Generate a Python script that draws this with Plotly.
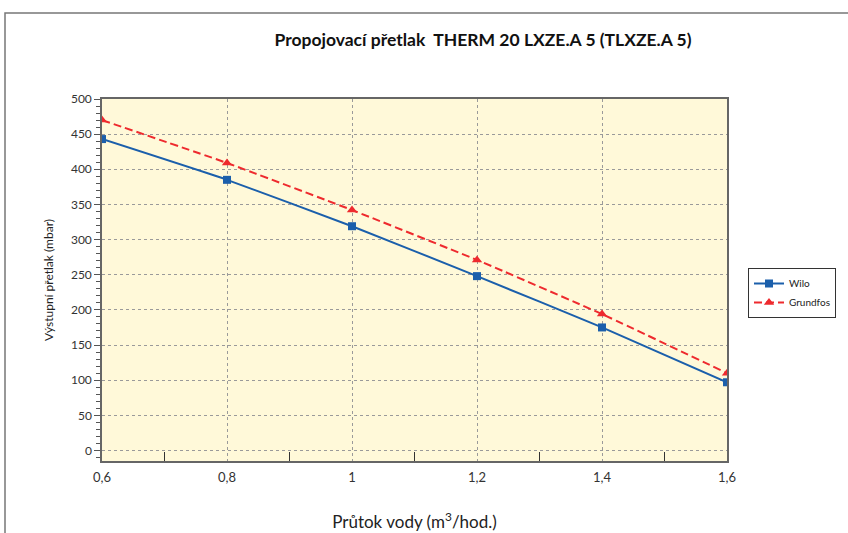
import plotly.graph_objects as go

flow = [0.6, 0.8, 1.0, 1.2, 1.4, 1.6]
wilo = [443, 385, 319, 248, 175, 97]
grundfos = [470, 409, 342, 271, 194, 110]
x_tick_vals = [0.6, 0.8, 1.0, 1.2, 1.4, 1.6]
x_tick_text = ["0,6", "0,8", "1", "1,2", "1,4", "1,6"]

FONT = "Lato, sans-serif"

fig = go.Figure()
fig.add_trace(go.Scatter(
    x=flow, y=wilo, name="Wilo", mode="lines+markers",
    line=dict(color="#1B5FAB", width=2, shape="spline", smoothing=0.4),
    marker=dict(symbol="square", size=8, color="#1B5FAB"),
))
fig.add_trace(go.Scatter(
    x=flow, y=grundfos, name="Grundfos", mode="lines+markers",
    line=dict(color="#EE2A2E", width=2, dash="8px,4px", shape="spline", smoothing=0.4),
    marker=dict(symbol="triangle-up", size=9, color="#EE2A2E"),
))

L, R, T, B = 102, 848 - 727, 99, 533 - 461
fig.update_layout(
    width=848, height=533,
    margin=dict(l=L, r=R, t=T, b=B, autoexpand=False),
    paper_bgcolor="white",
    plot_bgcolor="#FFF9D9",
    font=dict(family=FONT, size=12, color="#333333"),
    showlegend=True,
    legend=dict(
        x=(748 - L) / 625, y=(461 - 268) / 362, xanchor="left", yanchor="top",
        bgcolor="white", bordercolor="#333333", borderwidth=1,
        font=dict(family=FONT, size=10, color="#222222"),
        tracegroupgap=0, itemwidth=30,
    ),
    title=dict(
        text="<b>Propojovací přetlak  THERM 20 LXZE.A 5 (TLXZE.A 5)</b>",
        x=(483 - L) / 625, xref="paper", xanchor="center",
        y=1 - 40 / 533, yanchor="middle",
        font=dict(family=FONT, size=17.5, color="#111111"),
    ),
    xaxis=dict(
        range=[0.6, 1.6], automargin=False,
        tickvals=x_tick_vals, ticktext=x_tick_text,
        ticks="", showgrid=True,
        gridcolor="#9a9a9a", griddash="3px,3px", gridwidth=1,
        showline=True, linecolor="#666666", linewidth=1.5, mirror=True,
        zeroline=False,
        ticklabelstandoff=4,
        tickfont=dict(family=FONT, size=13, color="#333333"),
        minor=dict(ticks="inside", tick0=0.7, dtick=0.2, ticklen=9,
                   tickcolor="#333333", showgrid=False),
        title=dict(text="Průtok vody (m<sup>3</sup>/hod.)",
                   font=dict(family=FONT, size=17, color="#222222"),
                   standoff=32),
    ),
    yaxis=dict(
        range=[-15, 500], automargin=False,
        tick0=0, dtick=50,
        ticks="outside", ticklen=6, tickcolor="#555555",
        showgrid=True, gridcolor="#9a9a9a", griddash="3px,3px", gridwidth=1,
        showline=True, linecolor="#666666", linewidth=1.5, mirror=True,
        zeroline=False,
        tickfont=dict(family=FONT, size=12, color="#333333"),
        minor=dict(ticks="outside", dtick=10, tick0=0, ticklen=4,
                   tickcolor="#555555", showgrid=False),
        title=dict(text="Výstupní přetlak (mbar)",
                   font=dict(family=FONT, size=12, color="#222222"),
                   standoff=15),
    ),
)

# outer chart border
fig.add_shape(type="rect", xref="paper", yref="paper",
              x0=(5 - L) / 625, x1=1.5, y0=-0.5, y1=(461 - 13) / 362,
              line=dict(color="#777777", width=1.5), layer="below")

fig.write_html("out.html", config={"displayModeBar": False},
               post_script="document.body.style.margin='0';document.body.style.overflow='hidden';")
